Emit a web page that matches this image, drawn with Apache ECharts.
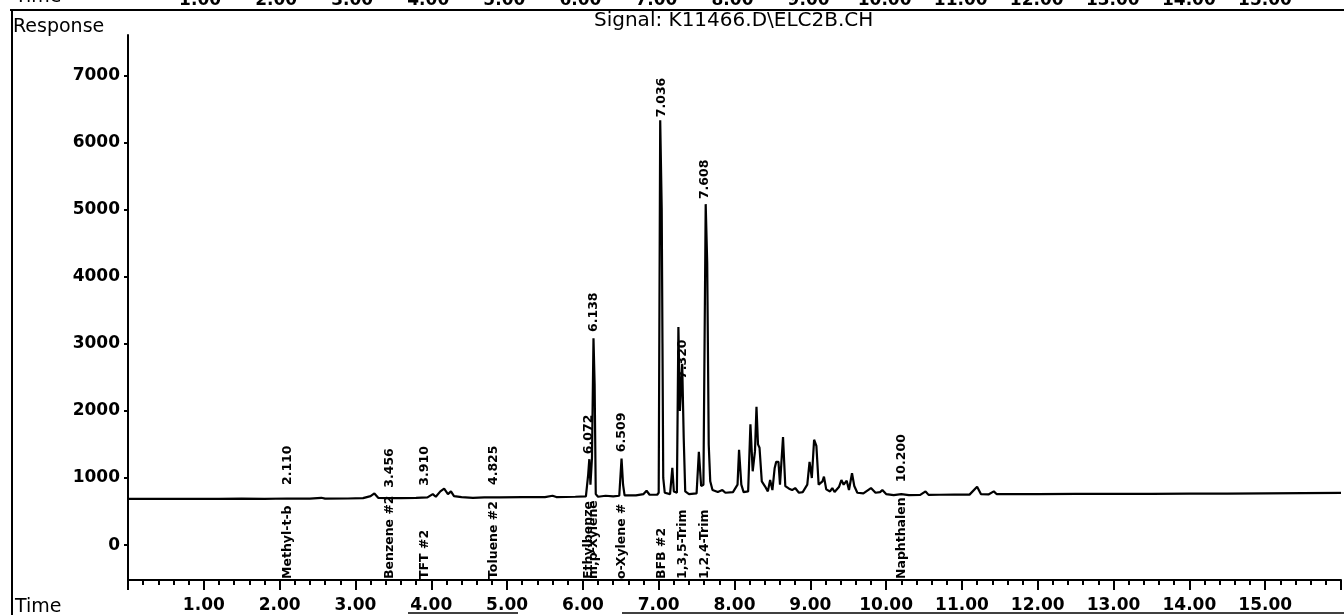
<!DOCTYPE html>
<html>
<head>
<meta charset="utf-8">
<script src="https://cdn.jsdelivr.net/npm/echarts@6/dist/echarts.min.js"></script>
<style>
  html, body { margin: 0; padding: 0; background: #fff; }
  #chart { width: 1344px; height: 615px; }
</style>
</head>
<body>
<div id="chart"></div>
<script>
// chromatogram trace (time in min, response)
const traceTime = [
  0.00, 0.30, 0.60, 0.90, 1.20, 1.50, 1.80, 2.10, 2.40, 2.55, 2.60, 2.90,
  3.10, 3.20, 3.25, 3.30, 3.45, 3.60, 3.80, 3.95, 4.02, 4.06, 4.12, 4.17,
  4.22, 4.26, 4.30, 4.40, 4.55, 4.70, 4.90, 5.20, 5.50, 5.60, 5.65, 5.90,
  6.04, 6.07, 6.085, 6.10, 6.12, 6.14, 6.155, 6.17, 6.20, 6.30, 6.40, 6.48,
  6.51, 6.53, 6.55, 6.70, 6.80, 6.84, 6.88, 6.98, 7.00, 7.02, 7.04, 7.05,
  7.06, 7.08, 7.15, 7.18, 7.20, 7.24, 7.26, 7.28, 7.31, 7.33, 7.35, 7.40,
  7.50, 7.53, 7.56, 7.59, 7.62, 7.64, 7.66, 7.68, 7.71, 7.78, 7.84, 7.88,
  7.98, 8.04, 8.06, 8.09, 8.12, 8.18, 8.21, 8.24, 8.27, 8.29, 8.31, 8.33,
  8.36, 8.40, 8.44, 8.47, 8.50, 8.53, 8.55, 8.58, 8.60, 8.64, 8.67, 8.72,
  8.76, 8.80, 8.85, 8.90, 8.96, 8.99, 9.02, 9.05, 9.08, 9.11, 9.16, 9.18,
  9.21, 9.26, 9.29, 9.32, 9.38, 9.41, 9.44, 9.48, 9.51, 9.55, 9.58, 9.62,
  9.70, 9.80, 9.86, 9.92, 9.95, 10.00, 10.10, 10.20, 10.30, 10.45, 10.52, 10.56,
  10.70, 10.90, 11.10, 11.20, 11.25, 11.35, 11.42, 11.46, 11.70, 12.00, 12.50, 13.00,
  13.50, 14.00, 14.50, 15.00, 16.00
];
const traceResp = [
  690, 688, 690, 688, 690, 692, 690, 694, 692, 705, 692, 694,
  700, 730, 770, 705, 700, 700, 704, 710, 760, 720, 800, 840,
  760, 800, 730, 715, 705, 712, 712, 714, 716, 735, 716, 720,
  725, 1050, 1280, 900, 1300, 3080, 2400, 760, 720, 735, 725, 735,
  1290, 900, 740, 740, 760, 810, 750, 750, 780, 6330, 5000, 3000,
  1000, 780, 760, 1150, 800, 780, 3250, 2000, 2700, 1600, 800, 760,
  770, 1390, 880, 900, 5080, 4200, 1500, 950, 820, 790, 820, 780,
  790, 900, 1420, 900, 790, 800, 1800, 1100, 1400, 2060, 1500, 1450,
  950, 880, 800, 970, 820, 1150, 1240, 1240, 900, 1610, 880, 840,
  820, 850, 780, 790, 900, 1240, 1000, 1570, 1480, 900, 950, 1020,
  830, 800, 850, 790, 870, 970, 900, 960, 820, 1070, 880, 780,
  770, 850, 780, 790, 820, 760, 745, 760, 745, 748, 800, 748,
  750, 752, 752, 870, 760, 755, 800, 758, 758, 760, 762, 762,
  764, 766, 768, 772, 778
];

// integrated peaks: retention time, printed label, response where the label starts
const peakTimes = [2.110, 3.456, 3.910, 4.825, 6.072, 6.138, 6.509, 7.036, 7.320, 7.608, 10.200];
const peakLabels = ['2.110', '3.456', '3.910', '4.825', '6.072', '6.138', '6.509', '7.036', '7.320', '7.608', '10.200'];
const labelAt = [880, 840, 870, 880, 1340, 3160, 1370, 6360, 2460, 5140, 920];
const compoundNames = ['Methyl-t-b', 'Benzene #2', 'TFT #2', 'Toluene #2', 'Ethylbenze', 'm,p-Xylene',
  'o-Xylene #', 'BFB #2', '1,3,5-Trim', '1,2,4-Trim', 'Naphthalen'];

const yTicks = [0, 1000, 2000, 3000, 4000, 5000, 6000, 7000];
const yMin = -520;
const yMax = 7600;

const FONT = 'DejaVu Sans';

const chart = echarts.init(document.getElementById('chart'));

// vertical (bottom-to-top) text drawn at a data point
function vText(texts) {
  return function (params, api) {
    const p = api.coord([api.value(0), api.value(1)]);
    return {
      type: 'text',
      x: p[0],
      y: p[1] - 1,
      rotation: Math.PI / 2,
      style: {
        text: texts[params.dataIndex],
        fontFamily: FONT,
        fontSize: 12.5,
        fontWeight: 'bold',
        fill: '#000',
        align: 'left',
        verticalAlign: 'middle'
      }
    };
  };
}

const timeFmt = v => (v === 0 || v > 15.5) ? '' : v.toFixed(2);
const tickFont = { fontFamily: FONT, fontSize: 17, fontWeight: 'bold', color: '#000' };

chart.setOption({
  animation: false,
  backgroundColor: '#fff',
  title: {
    text: 'Signal: K11466.D\\ELC2B.CH',
    left: 594,
    top: 11,
    padding: 0,
    textStyle: { fontFamily: FONT, fontSize: 20, fontWeight: 'normal', color: '#000' }
  },
  graphic: [
    { type: 'line', shape: { x1: 10, y1: 10, x2: 1344, y2: 10 }, style: { stroke: '#000', lineWidth: 2 } },
    { type: 'line', shape: { x1: 12, y1: 10, x2: 12, y2: 615 }, style: { stroke: '#000', lineWidth: 2 } },
    { type: 'line', shape: { x1: 408, y1: 613, x2: 518, y2: 613 }, style: { stroke: '#000', lineWidth: 1.5 } },
    { type: 'line', shape: { x1: 622, y1: 613, x2: 1344, y2: 613 }, style: { stroke: '#000', lineWidth: 1.5 } },
    { type: 'text', x: 13, y: 18, style: { text: 'Response', fontFamily: FONT, fontSize: 19, fill: '#000' } },
    { type: 'text', x: 15, y: 598, style: { text: 'Time', fontFamily: FONT, fontSize: 19, fill: '#000' } },
    { type: 'text', x: 15, y: -12, style: { text: 'Time', fontFamily: FONT, fontSize: 19, fill: '#000' } }
  ],
  grid: [
    { left: 128, right: -3, top: 35, bottom: 35, show: false },
    { left: 124, right: 0, top: -60, height: 40, show: false }
  ],
  xAxis: [
    {
      type: 'value',
      gridIndex: 0,
      min: 0,
      max: 16,
      interval: 1,
      axisLine: { show: true, onZero: false, lineStyle: { color: '#000', width: 2 } },
      axisTick: { show: true, length: 10, lineStyle: { color: '#000', width: 2 } },
      minorTick: { show: true, splitNumber: 5, length: 5, lineStyle: { color: '#000', width: 2 } },
      splitLine: { show: false },
      axisLabel: Object.assign({ margin: 17, formatter: timeFmt }, tickFont)
    },
    {
      type: 'value',
      gridIndex: 1,
      min: 0,
      max: 16,
      interval: 1,
      axisLine: { show: false },
      axisTick: { show: false },
      splitLine: { show: false },
      axisLabel: Object.assign({ margin: 2, formatter: timeFmt }, tickFont)
    }
  ],
  yAxis: [
    {
      type: 'value',
      gridIndex: 0,
      min: yMin,
      max: yMax,
      axisLine: { show: true, onZero: false, lineStyle: { color: '#000', width: 2 } },
      axisTick: { show: true, length: 4, customValues: yTicks, lineStyle: { color: '#000', width: 2 } },
      splitLine: { show: false },
      axisLabel: Object.assign({ margin: 8, customValues: yTicks, formatter: v => String(v) }, tickFont)
    },
    { type: 'value', gridIndex: 1, show: false }
  ],
  series: [
    {
      name: 'signal',
      type: 'line',
      xAxisIndex: 0,
      yAxisIndex: 0,
      data: traceTime.map((t, i) => [t, traceResp[i]]),
      symbol: 'none',
      lineStyle: { color: '#000', width: 2.2 },
      z: 2
    },
    {
      name: 'retention times',
      type: 'custom',
      xAxisIndex: 0,
      yAxisIndex: 0,
      data: peakTimes.map((t, i) => [t, labelAt[i]]),
      renderItem: vText(peakLabels),
      z: 3
    },
    {
      name: 'compounds',
      type: 'custom',
      xAxisIndex: 0,
      yAxisIndex: 0,
      data: peakTimes.map(t => [t, yMin]),
      renderItem: vText(compoundNames),
      z: 3
    }
  ]
});
</script>
</body>
</html>
